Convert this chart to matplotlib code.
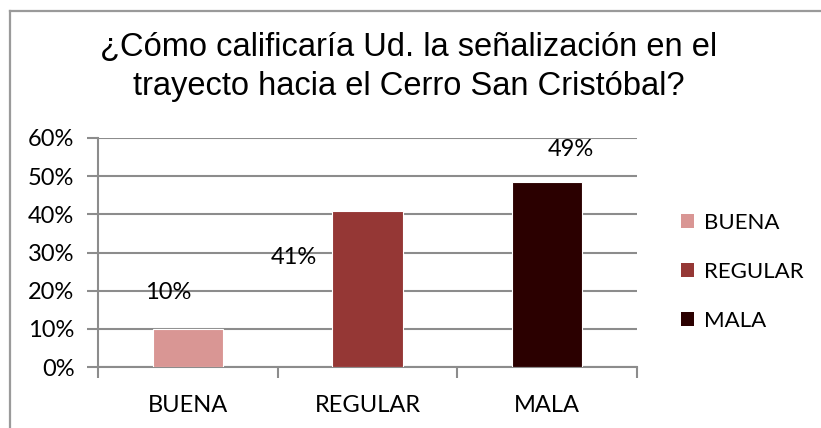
import matplotlib.pyplot as plt
from matplotlib.lines import Line2D
from matplotlib.patches import Patch
from matplotlib.ticker import PercentFormatter

categories = ["BUENA", "REGULAR", "MALA"]
values = [0.10, 0.41, 0.485]
labels = ["10%", "41%", "49%"]
colors = ["#D99694", "#953735", "#2B0000"]
# where Excel dropped the data labels: x shift (in category units), y (in data units)
label_dx = [-0.11, -0.41, 0.13]
label_y = [0.194, 0.288, 0.57]
yticks = [0, 0.1, 0.2, 0.3, 0.4, 0.5, 0.6]

title = "¿Cómo calificaría Ud. la señalización en el\ntrayecto hacia el Cerro San Cristóbal?"

W, H = 821, 428
fig = plt.figure(figsize=(W / 100, H / 100), dpi=100)

# chart frame (only top and left edges are visible in the crop)
frame_col = "#9A9A9A"
fig.add_artist(Line2D([10 / W, 1], [1 - 10.5 / H] * 2, color=frame_col, lw=1.6))
fig.add_artist(Line2D([10 / W] * 2, [0, 1 - 10.5 / H], color=frame_col, lw=1.6))

ax = fig.add_axes([98 / W, 1 - 367 / H, (637 - 98) / W, (367 - 138) / H])

x = range(len(categories))
ax.bar(x, values, width=0.39, color=colors, edgecolor="white", linewidth=0.8,
       zorder=3)

for i, (dx, yy, lab) in enumerate(zip(label_dx, label_y, labels)):
    ax.text(i + dx, yy, lab, ha="center", va="center", fontsize=17,
            family="Lato", color="black", zorder=4)

ax.set_xlim(-0.5, len(categories) - 0.5)
ax.set_ylim(0, 0.6)
ax.set_yticks(yticks)
ax.yaxis.set_major_formatter(PercentFormatter(1.0, decimals=0))
ax.set_xticks(list(x))
ax.set_xticklabels(categories)
ax.set_xticks([i - 0.5 for i in range(len(categories) + 1)], minor=True)

grid_col = "#8C8C8C"
ax.grid(axis="y", color=grid_col, linewidth=1.5, zorder=0)
for s in ["top", "right"]:
    ax.spines[s].set_visible(False)
ax.spines["left"].set_color(grid_col)
ax.spines["bottom"].set_color(grid_col)
ax.spines["left"].set_linewidth(1.5)
ax.spines["bottom"].set_linewidth(1.5)

ax.tick_params(axis="x", which="major", length=0, pad=20)
ax.tick_params(axis="x", which="minor", length=8, width=1.5, color=grid_col)
ax.tick_params(axis="y", length=8, width=1.5, color=grid_col, pad=9)
for t in ax.get_xticklabels() + ax.get_yticklabels():
    t.set_family("Lato")
    t.set_fontsize(17)

fig.text(409 / W, 1 - 67 / H, title, ha="center", va="center",
         family="Liberation Sans", fontsize=23.5, linespacing=1.3)

handles = [Patch(facecolor=c, edgecolor="none") for c in colors]
leg = fig.legend(handles, categories, loc="center left",
                 bbox_to_anchor=(681 / W, 1 - 272 / H), frameon=False,
                 borderaxespad=0, borderpad=0,
                 prop={"family": "Lato", "size": 16}, handlelength=0.6,
                 handleheight=0.6, handletextpad=0.45, labelspacing=1.3)

fig.savefig("out.png", dpi=100)
